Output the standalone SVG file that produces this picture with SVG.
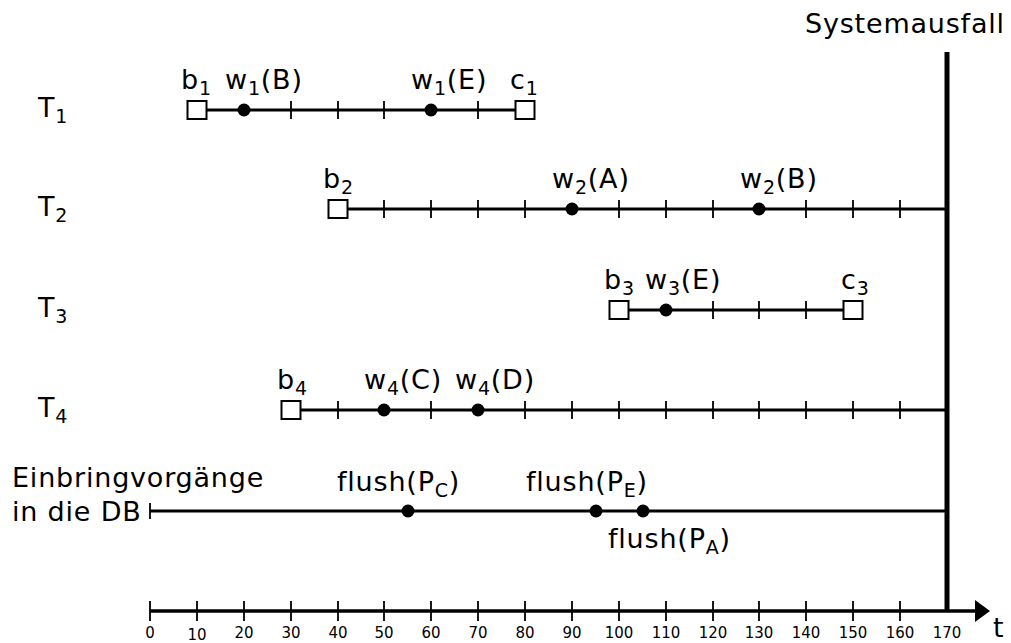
<svg xmlns="http://www.w3.org/2000/svg" width="1011" height="643" viewBox="0 0 1011 643">
<defs>
<style>
text{font-family:"DejaVu Sans","Liberation Sans",sans-serif;fill:#000}
.lbl{font-size:27px;letter-spacing:0.8px}
.sub{font-size:19px}
.num{font-size:15px;text-anchor:middle}
.row{stroke:#000;stroke-width:3;fill:none}
.tk{stroke:#000;stroke-width:1.8;fill:none}
.axis{stroke:#000;stroke-width:3.5;fill:none}
.crash{stroke:#000;stroke-width:5;fill:none}
.sq{fill:#fff;stroke:#000;stroke-width:2}
.dot{fill:#000}
</style>
<marker id="arr" markerUnits="userSpaceOnUse" markerWidth="16" markerHeight="22" refX="2" refY="11" orient="auto">
<path d="M0,0 L15,11 L0,22 Z" fill="#000"/>
</marker>
</defs>
<rect width="1011" height="643" fill="#fff"/>

<g id="connectors">
<path class="row" d="M197,110 H525"/>
<path class="row" d="M338,209 H947"/>
<path class="row" d="M619,310 H853"/>
<path class="row" d="M291,410 H947"/>
<path class="row" d="M150,511 H947"/>
<path class="tk" d="M291,101 v18 M338,101 v18 M384,101 v18 M478,101 v18"/>
<path class="tk" d="M384,200 v18 M431,200 v18 M478,200 v18 M525,200 v18 M619,200 v18 M666,200 v18 M713,200 v18 M806,200 v18 M853,200 v18 M900,200 v18"/>
<path class="tk" d="M713,301 v18 M759,301 v18 M806,301 v18"/>
<path class="tk" d="M338,401 v18 M431,401 v18 M525,401 v18 M572,401 v18 M619,401 v18 M666,401 v18 M713,401 v18 M759,401 v18 M806,401 v18 M853,401 v18 M900,401 v18"/>
<path class="tk" d="M150,503 v16"/>
<path class="crash" d="M947,52 V611"/>
<path class="axis" d="M150,611 H977" marker-end="url(#arr)"/>
<path class="tk" d="M150,601 v20 M197,601 v20 M244,601 v20 M291,601 v20 M338,601 v20 M384,601 v20 M431,601 v20 M478,601 v20 M525,601 v20 M572,601 v20 M619,601 v20 M666,601 v20 M713,601 v20 M759,601 v20 M806,601 v20 M853,601 v20 M900,601 v20"/>
</g>

<g id="axis-labels">
<text class="num" x="150" y="638">0</text>
<text class="num" x="197" y="640">10</text>
<text class="num" x="244" y="638">20</text>
<text class="num" x="291" y="638">30</text>
<text class="num" x="338" y="638">40</text>
<text class="num" x="384" y="638">50</text>
<text class="num" x="431" y="638">60</text>
<text class="num" x="478" y="638">70</text>
<text class="num" x="525" y="638">80</text>
<text class="num" x="572" y="638">90</text>
<text class="num" x="619" y="638">100</text>
<text class="num" x="666" y="638">110</text>
<text class="num" x="713" y="638">120</text>
<text class="num" x="759" y="638">130</text>
<text class="num" x="806" y="638">140</text>
<text class="num" x="853" y="638">150</text>
<text class="num" x="900" y="638">160</text>
<text class="num" x="947" y="638">170</text>
<text class="lbl" x="993" y="637">t</text>
</g>

<g id="systemausfall">
<text class="lbl" x="805" y="33">Systemausfall</text>
</g>

<g id="T1">
<text class="lbl" x="38" y="117">T<tspan class="sub" dy="6">1</tspan></text>
<rect class="sq" x="187.5" y="101" width="19" height="18"/>
<rect class="sq" x="515.5" y="101" width="19" height="18"/>
<circle class="dot" cx="244" cy="110" r="6.5"/>
<circle class="dot" cx="431" cy="110" r="6.5"/>
<text class="lbl" x="181" y="89">b<tspan class="sub" dy="6">1</tspan></text>
<text class="lbl" x="225" y="89">w<tspan class="sub" dy="6">1</tspan><tspan dy="-6">(B)</tspan></text>
<text class="lbl" x="411" y="89">w<tspan class="sub" dy="6">1</tspan><tspan dy="-6">(E)</tspan></text>
<text class="lbl" x="510" y="89">c<tspan class="sub" dy="6">1</tspan></text>
</g>

<g id="T2">
<text class="lbl" x="38" y="216">T<tspan class="sub" dy="6">2</tspan></text>
<rect class="sq" x="328.5" y="200" width="19" height="18"/>
<circle class="dot" cx="572" cy="209" r="6.5"/>
<circle class="dot" cx="759" cy="209" r="6.5"/>
<text class="lbl" x="323" y="188">b<tspan class="sub" dy="6">2</tspan></text>
<text class="lbl" x="552" y="188">w<tspan class="sub" dy="6">2</tspan><tspan dy="-6">(A)</tspan></text>
<text class="lbl" x="740" y="188">w<tspan class="sub" dy="6">2</tspan><tspan dy="-6">(B)</tspan></text>
</g>

<g id="T3">
<text class="lbl" x="38" y="317">T<tspan class="sub" dy="6">3</tspan></text>
<rect class="sq" x="609.5" y="301" width="19" height="18"/>
<rect class="sq" x="843.5" y="301" width="19" height="18"/>
<circle class="dot" cx="666" cy="310" r="6.5"/>
<text class="lbl" x="604" y="289">b<tspan class="sub" dy="6">3</tspan></text>
<text class="lbl" x="645" y="289">w<tspan class="sub" dy="6">3</tspan><tspan dy="-6">(E)</tspan></text>
<text class="lbl" x="841" y="289">c<tspan class="sub" dy="6">3</tspan></text>
</g>

<g id="T4">
<text class="lbl" x="38" y="417">T<tspan class="sub" dy="6">4</tspan></text>
<rect class="sq" x="281.5" y="401" width="19" height="18"/>
<circle class="dot" cx="384" cy="410" r="6.5"/>
<circle class="dot" cx="478" cy="410" r="6.5"/>
<text class="lbl" x="277" y="389">b<tspan class="sub" dy="6">4</tspan></text>
<text class="lbl" x="364" y="389">w<tspan class="sub" dy="6">4</tspan><tspan dy="-6">(C)</tspan></text>
<text class="lbl" x="455" y="389">w<tspan class="sub" dy="6">4</tspan><tspan dy="-6">(D)</tspan></text>
</g>

<g id="Einbring">
<text class="lbl" x="12" y="487">Einbringvorgänge</text>
<text class="lbl" x="12" y="521">in die DB</text>
<circle class="dot" cx="408" cy="511" r="6.5"/>
<circle class="dot" cx="596" cy="511" r="6.5"/>
<circle class="dot" cx="643" cy="511" r="6.5"/>
<text class="lbl" x="337" y="491">flush(P<tspan class="sub" dy="6">C</tspan><tspan dy="-6">)</tspan></text>
<text class="lbl" x="526" y="491">flush(P<tspan class="sub" dy="6">E</tspan><tspan dy="-6">)</tspan></text>
<text class="lbl" x="608" y="548">flush(P<tspan class="sub" dy="6">A</tspan><tspan dy="-6">)</tspan></text>
</g>
</svg>
